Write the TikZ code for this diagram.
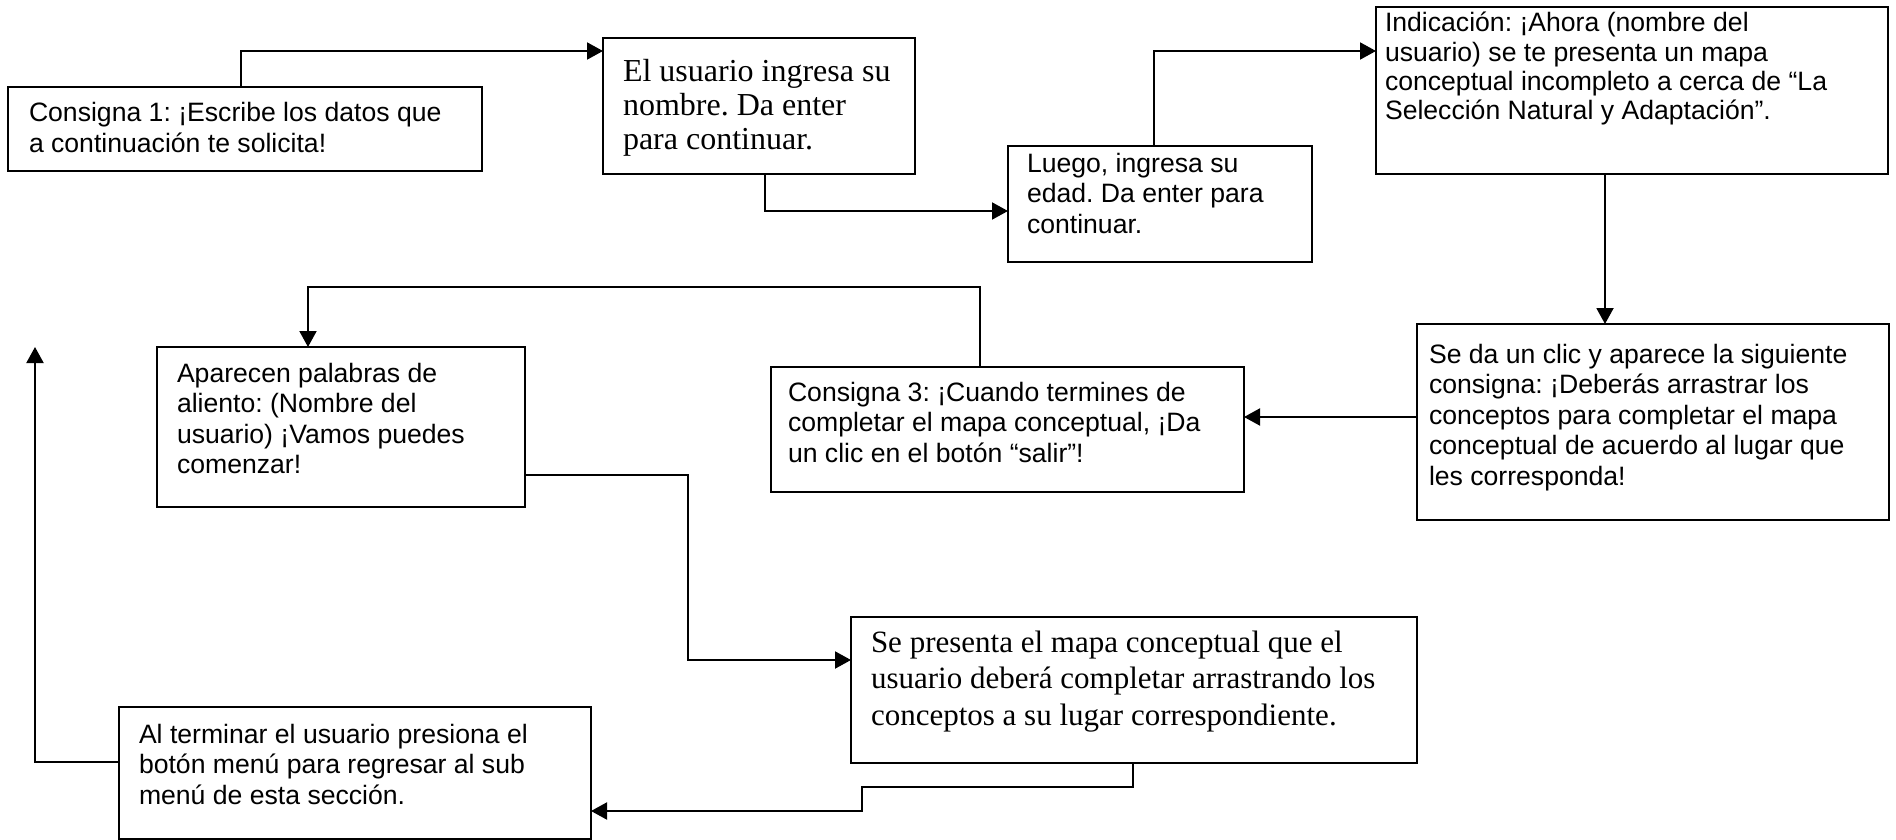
\documentclass[tikz,border=0pt]{standalone}
\usepackage{fontspec}
\setmainfont{Liberation Serif}
\newfontfamily\arialf{Liberation Sans}
\usetikzlibrary{arrows.meta}
\frenchspacing
\newcommand{\sanstxt}[2][15.3pt]{\parbox[t]{300pt}{\arialf\fontsize{13.3pt}{#1}\selectfont\frenchspacing\raggedright #2}}
\newcommand{\seriftxt}[3]{\parbox[t]{300pt}{\fontsize{#1}{#2}\selectfont\frenchspacing\raggedright #3}}
\tikzset{
  box/.style={draw, rectangle, line width=1.3pt, inner sep=0pt, outer sep=0pt, anchor=north west},
  txt/.style={inner sep=0pt, outer sep=0pt, anchor=base west},
  conn/.style={line width=1pt},
  arr/.style={conn, -{Triangle[length=8pt,width=8.5pt]}}
}
\begin{document}
\begin{tikzpicture}[x=0.5pt,y=-0.5pt]
\useasboundingbox (0,0) rectangle (1896,840);
% boxes
\node[box, minimum width=237pt, minimum height=42pt] (c1) at (8,87) {};
\node[box, minimum width=156pt, minimum height=68pt] (e1) at (603,38) {};
\node[box, minimum width=152pt, minimum height=58pt] (lu) at (1008,146) {};
\node[box, minimum width=256pt, minimum height=83.5pt] (ind) at (1376,7) {};
\node[box, minimum width=236pt, minimum height=98pt] (sd) at (1417,324) {};
\node[box, minimum width=236.5pt, minimum height=62.5pt] (c3) at (771,367) {};
\node[box, minimum width=184pt, minimum height=80pt] (ap) at (157,347) {};
\node[box, minimum width=283pt, minimum height=73pt] (sp) at (851,617) {};
\node[box, minimum width=236pt, minimum height=66pt] (at) at (119,707) {};
% texts
\node[txt] (c1t) at (29,122) {\sanstxt{Consigna 1: ¡Escribe los datos que\\a continuación te solicita!}};
\node[txt] (e1t) at (623,82) {\seriftxt{16pt}{17pt}{El usuario ingresa su\\nombre. Da enter\\para continuar.}};
\node[txt] (lut) at (1027,172) {\sanstxt{Luego, ingresa su\\edad. Da enter para\\continuar.}};
\node[txt] (indt) at (1385,32) {\sanstxt[14.6pt]{Indicación: ¡Ahora (nombre del\\usuario) se te presenta un mapa\\conceptual incompleto a cerca de “La\\Selección Natural y Adaptación”.}};
\node[txt] (sdt) at (1429,363) {\sanstxt{Se da un clic y aparece la siguiente\\consigna: ¡Deberás arrastrar los\\conceptos para completar el mapa\\conceptual de acuerdo al lugar que\\les corresponda!}};
\node[txt] (c3t) at (788,401) {\sanstxt{Consigna 3: ¡Cuando termines de\\completar el mapa conceptual, ¡Da\\un clic en el botón “salir”!}};
\node[txt] (apt) at (177,382) {\sanstxt{Aparecen palabras de\\aliento: (Nombre del\\usuario) ¡Vamos puedes\\comenzar!}};
\node[txt] (spt) at (871,652) {\seriftxt{15.5pt}{18.3pt}{Se presenta el mapa conceptual que el\\usuario deberá completar arrastrando los\\conceptos a su lugar correspondiente.}};
\node[txt] (att) at (139,743) {\sanstxt{Al terminar el usuario presiona el\\botón menú para regresar al sub\\menú de esta sección.}};
% connectors
\coordinate (free) at (35,347);
\draw[arr] (241,0 |- c1.north) |- (e1.west |- 0,51);
\draw[arr] (765,0 |- e1.south) |- (lu.west |- 0,211);
\draw[arr] (1154,0 |- lu.north) |- (ind.west |- 0,51);
\draw[arr] (1605,0 |- ind.south) -- (1605,0 |- sd.north);
\draw[arr] (sd.west |- 0,417) -- (c3.east |- 0,417);
\draw[arr] (980,0 |- c3.north) -- (980,287) -| (308,0 |- ap.north);
\draw[arr] (ap.east |- 0,475) -- (688,475) |- (sp.west |- 0,660);
\draw[arr] (1133,0 |- sp.south) -- (1133,787) -- (862,787) |- (at.east |- 0,811);
\draw[arr] (at.west |- 0,762) -| (free);
\end{tikzpicture}
\end{document}
